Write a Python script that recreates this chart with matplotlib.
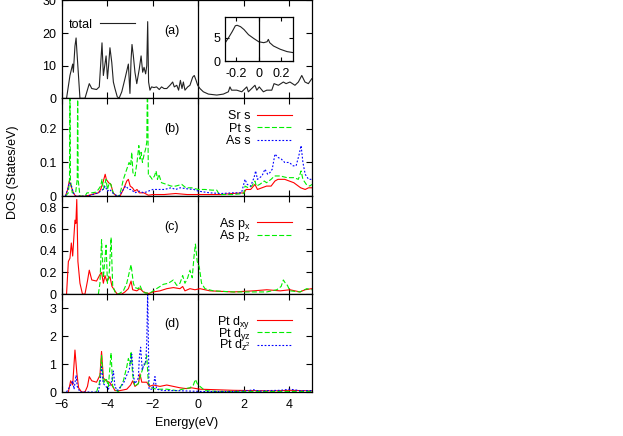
import matplotlib
matplotlib.use("Agg")
import matplotlib.pyplot as plt
from matplotlib.ticker import FuncFormatter

plt.rcParams['font.family'] = ['Liberation Sans', 'DejaVu Sans']
plt.rcParams['mathtext.default'] = 'regular'
plt.rcParams['font.size'] = 9

# ---------------- data ----------------
# (a) total DOS
tot_e = [-5.80, -5.65, -5.53, -5.50, -5.43, -5.38, -5.35, -5.21, -4.99, -4.80, -4.69, -4.48, -4.36,
         -4.24, -4.18, -4.12, -4.06, -4.00, -3.95, -3.89, -3.81, -3.74, -3.67, -3.57, -3.49, -3.37,
         -3.23, -3.08, -3.01, -2.96, -2.92, -2.86, -2.79, -2.71, -2.60, -2.52, -2.45, -2.39, -2.32,
         -2.27, -2.23, -2.19, -2.13, -2.06, -1.95, -1.84, -1.72, -1.62, -1.51, -1.39, -1.25, -1.13,
         -1.06, -0.95, -0.87, -0.79, -0.72, -0.66, -0.59, -0.47, -0.37, -0.25, -0.18, -0.10, -0.03,
         0.07, 0.22, 0.44, 0.81, 1.10, 1.32, 1.39, 1.46, 1.69, 1.91, 2.13, 2.20, 2.49, 2.57, 2.68,
         2.86, 3.01, 3.23, 3.33, 3.52, 3.74, 3.86, 4.03, 4.25, 4.40, 4.55, 4.69, 4.84, 4.99]
tot_v = [0.0, 7.0, 10.5, 8.0, 16.0, 18.5, 15.0, 0.0, 0.0, 4.5, 3.0, 2.7, 3.5,
         17.0, 7.0, 10.0, 13.0, 6.0, 10.0, 15.5, 11.0, 5.0, 3.0, 0.5, 0.0, 2.0,
         6.0, 10.5, 1.5, 12.0, 16.5, 13.0, 8.0, 4.5, 9.0, 13.0, 8.0, 9.5, 7.5,
         10.0, 23.5, 5.0, 2.5, 3.5, 3.3, 3.5, 2.7, 3.5, 3.0, 3.0, 4.0, 5.0,
         3.5, 4.0, 2.5, 5.5, 3.0, 5.0, 2.5, 3.5, 4.0, 6.5, 7.0, 5.5, 4.0,
         3.0, 2.0, 1.3, 1.0, 1.3, 2.0, 3.5, 2.5, 2.5, 2.0, 3.5, 2.0, 4.0, 2.5, 3.5,
         2.0, 2.5, 2.5, 4.5, 4.0, 5.0, 4.5, 5.0, 4.0, 5.0, 7.0, 5.0, 4.5, 6.0]

# inset (zoom near Fermi level)
ins_e = [-0.30, -0.265, -0.235, -0.206, -0.19, -0.16, -0.13, -0.09, -0.044, 0.0, 0.044, 0.074,
         0.085, 0.097, 0.13, 0.19, 0.25, 0.30]
ins_v = [3.7, 5.0, 6.2, 7.5, 7.6, 7.3, 6.7, 5.6, 4.8, 4.1, 3.9, 4.1, 4.6, 3.9, 3.2, 2.5, 2.0, 1.8]

# (b) s orbitals
srs_e = [-5.85, -5.75, -5.68, -5.60, -5.50, -5.40, -4.99, -4.80, -4.40, -4.30, -4.20, -4.10, -4.05,
         -3.95, -3.85, -3.75, -3.60, -3.45, -3.30, -3.15, -3.08, -3.00, -2.90, -2.80, -2.70, -2.60,
         -2.40, -2.20, -2.00, -1.50, -1.00, -0.50, 0.00, 0.50, 1.00, 1.50, 2.00, 2.10, 2.30, 2.49,
         2.60, 2.80, 3.00, 3.20, 3.37, 3.50, 3.80, 4.00, 4.20, 4.40, 4.50, 4.70, 4.85, 5.00]
srs_v = [0.0, 0.02, 0.045, 0.03, 0.01, 0.0, 0.0, 0.003, 0.01, 0.02, 0.04, 0.065, 0.05,
         0.04, 0.035, 0.01, 0.0, 0.0, 0.02, 0.045, 0.05, 0.03, 0.025, 0.015, 0.02, 0.01,
         0.01, 0.003, 0.005, 0.005, 0.008, 0.005, 0.005, 0.005, 0.005, 0.008, 0.01, 0.02, 0.02, 0.035,
         0.02, 0.025, 0.03, 0.03, 0.045, 0.05, 0.05, 0.045, 0.04, 0.03, 0.025, 0.02, 0.025, 0.025]

pts_e = [-5.85, -5.72, -5.67, -5.65, -5.63, -5.55, -5.40, -5.33, -5.31, -5.29, -5.21, -4.99, -4.90,
         -4.70, -4.50, -4.40, -4.30, -4.24, -4.18, -4.10, -4.06, -4.00, -3.92, -3.85, -3.75, -3.60,
         -3.49, -3.40, -3.30, -3.15, -3.05, -2.98, -2.93, -2.88, -2.79, -2.70, -2.62, -2.57, -2.52,
         -2.46, -2.40, -2.32, -2.27, -2.24, -2.20, -2.13, -2.03, -1.93, -1.86, -1.80, -1.74, -1.62,
         -1.40, -1.20, -1.00, -0.73, -0.55, -0.30, 0.00, 0.30, 0.60, 0.81, 0.92, 1.50, 2.00, 2.05,
         2.20, 2.35, 2.49, 2.55, 2.70, 2.90, 3.00, 3.20, 3.35, 3.60, 3.90, 4.20, 4.40, 4.52, 4.60,
         4.75, 4.90, 5.00]
pts_v = [0.0, 0.01, 0.05, 0.35, 0.05, 0.01, 0.01, 0.05, 0.35, 0.05, 0.0, 0.0, 0.01,
         0.01, 0.012, 0.02, 0.03, 0.05, 0.02, 0.04, 0.05, 0.02, 0.04, 0.035, 0.01, 0.0,
         0.0, 0.02, 0.05, 0.08, 0.10, 0.09, 0.13, 0.07, 0.06, 0.10, 0.15, 0.11, 0.13,
         0.10, 0.12, 0.14, 0.16, 0.35, 0.06, 0.06, 0.05, 0.06, 0.075, 0.05, 0.065, 0.04,
         0.035, 0.03, 0.03, 0.035, 0.025, 0.025, 0.02, 0.02, 0.018, 0.018, 0.005, 0.005, 0.008, 0.03,
         0.025, 0.03, 0.045, 0.03, 0.035, 0.045, 0.04, 0.05, 0.06, 0.06, 0.055, 0.055, 0.05, 0.075,
         0.05, 0.035, 0.03, 0.035]

ass_e = [-5.85, -5.75, -5.68, -5.60, -5.50, -5.40, -4.99, -4.80, -4.40, -4.20, -4.10, -4.00, -3.90,
         -3.70, -3.50, -3.30, -3.20, -3.05, -2.95, -2.80, -2.60, -2.40, -2.20, -2.00, -1.70, -1.50,
         -1.20, -1.00, -0.80, -0.50, -0.20, 0.00, 0.50, 1.00, 1.50, 1.90, 2.05, 2.15, 2.30, 2.45,
         2.52, 2.60, 2.80, 2.93, 3.05, 3.15, 3.25, 3.37, 3.50, 3.65, 3.80, 4.00, 4.17, 4.30, 4.42,
         4.52, 4.60, 4.70, 4.85, 5.00]
ass_v = [0.0, 0.02, 0.04, 0.035, 0.01, 0.0, 0.0, 0.002, 0.01, 0.02, 0.03, 0.015, 0.02,
         0.005, 0.0, 0.02, 0.03, 0.02, 0.02, 0.01, 0.015, 0.01, 0.015, 0.02, 0.02, 0.02,
         0.025, 0.02, 0.025, 0.022, 0.02, 0.015, 0.01, 0.008, 0.01, 0.01, 0.05, 0.035, 0.03, 0.055,
         0.075, 0.05, 0.06, 0.08, 0.065, 0.07, 0.08, 0.125, 0.115, 0.11, 0.10, 0.10, 0.09, 0.09, 0.12,
         0.15, 0.10, 0.065, 0.05, 0.05]

# (c) As p orbitals
apx_e = [-5.80, -5.72, -5.65, -5.59, -5.53, -5.43, -5.39, -5.35, -5.30, -5.21, -5.10, -4.99, -4.88,
         -4.80, -4.69, -4.48, -4.33, -4.26, -4.18, -4.11, -4.03, -3.89, -3.80, -3.67, -3.57, -3.37,
         -3.23, -3.08, -2.96, -2.89, -2.71, -2.57, -2.42, -2.20, -1.98, -1.69, -1.39, -1.10, -0.81,
         -0.69, -0.59, -0.37, -0.15, 0.07, 0.51, 1.54, 2.42, 3.01, 3.60, 4.03, 4.47, 4.69, 4.99]
apx_v = [0.0, 0.30, 0.33, 0.47, 0.35, 0.68, 0.65, 0.87, 0.30, 0.10, 0.0, 0.0, 0.12,
         0.22, 0.13, 0.12, 0.18, 0.20, 0.10, 0.17, 0.12, 0.16, 0.07, 0.03, 0.0, 0.0,
         0.02, 0.05, 0.12, 0.04, 0.03, 0.05, 0.02, 0.005, 0.02, 0.03, 0.05, 0.06, 0.05,
         0.07, 0.03, 0.05, 0.04, 0.05, 0.03, 0.02, 0.03, 0.04, 0.03, 0.04, 0.02, 0.04, 0.05]

apz_e = [-4.40, -4.33, -4.26, -4.18, -4.12, -4.06, -4.00, -3.92, -3.84, -3.77, -3.67, -3.52, -3.30,
         -3.15, -3.04, -2.96, -2.86, -2.79, -2.64, -2.57, -2.49, -2.35, -2.13, -1.84, -1.54, -1.32,
         -1.10, -0.95, -0.81, -0.69, -0.59, -0.47, -0.37, -0.27, -0.19, -0.13, -0.05, 0.04, 0.14,
         0.29, 0.66, 1.54, 2.42, 3.01, 3.45, 3.64, 3.74, 3.83, 3.92, 4.03, 4.47, 4.77, 4.99]
apz_v = [0.0, 0.10, 0.50, 0.15, 0.30, 0.45, 0.10, 0.20, 0.52, 0.08, 0.02, 0.0, 0.03,
         0.10, 0.20, 0.27, 0.10, 0.06, 0.05, 0.08, 0.04, 0.01, 0.01, 0.05, 0.09, 0.10,
         0.13, 0.08, 0.10, 0.17, 0.10, 0.15, 0.22, 0.15, 0.35, 0.46, 0.30, 0.25, 0.10,
         0.05, 0.03, 0.02, 0.02, 0.02, 0.04, 0.07, 0.13, 0.10, 0.08, 0.03, 0.02, 0.05, 0.04]

# (d) Pt d orbitals
dxy_e = [-5.72, -5.62, -5.53, -5.43, -5.35, -5.27, -5.14, -4.99, -4.88, -4.80, -4.69, -4.48, -4.33,
         -4.26, -4.18, -4.06, -3.92, -3.77, -3.67, -3.45, -3.15, -2.98, -2.89, -2.79, -2.64, -2.57,
         -2.49, -2.27, -2.16, -1.98, -1.69, -1.39, -1.10, -0.81, -0.52, -0.30, -0.08, 0.07, 0.81,
         1.54, 2.42, 3.30, 4.03, 4.99]
dxy_v = [0.0, 0.40, 0.25, 1.50, 0.70, 0.15, 0.0, 0.0, 0.20, 0.55, 0.40, 0.35, 0.60,
         1.45, 0.50, 0.40, 0.35, 0.20, 0.05, 0.05, 0.10, 0.25, 0.40, 0.20, 0.30, 0.65,
         0.35, 0.35, 0.20, 0.25, 0.20, 0.25, 0.20, 0.15, 0.12, 0.15, 0.12, 0.10, 0.08,
         0.06, 0.05, 0.04, 0.06, 0.04]

dyz_e = [-4.48, -4.36, -4.30, -4.26, -4.18, -4.06, -3.96, -3.84, -3.77, -3.67, -3.52, -3.30, -3.15,
         -3.08, -3.01, -2.96, -2.89, -2.79, -2.64, -2.54, -2.42, -2.35, -2.27, -2.20, -2.06, -1.84,
         -1.39, -0.95, -0.59, -0.37, -0.22, -0.13, -0.05, 0.07, 0.29, 0.81, 4.99]
dyz_v = [0.0, 0.30, 0.80, 1.30, 0.30, 0.50, 0.20, 1.40, 0.20, 0.10, 0.0, 0.40, 0.90,
         1.20, 1.00, 1.45, 0.60, 0.20, 0.30, 0.60, 0.90, 1.00, 1.30, 0.30, 0.15, 0.10,
         0.10, 0.05, 0.12, 0.15, 0.25, 0.45, 0.30, 0.20, 0.05, 0.02, 0.02]

dz2_e = [-5.80, -5.65, -5.53, -5.47, -5.38, -5.33, -5.21, -4.40, -4.33, -4.26, -4.18, -3.96, -3.81,
         -3.74, -3.67, -3.57, -3.30, -3.15, -3.04, -2.93, -2.86, -2.79, -2.64, -2.60, -2.54, -2.47,
         -2.39, -2.32, -2.27, -2.23, -2.17, -2.01, -1.91, -1.84, -1.54, -0.95, 0.07, 1.54, 2.20,
         2.42, 2.71, 3.01, 3.60, 4.03, 4.47, 4.99]
dz2_v = [0.0, 0.20, 0.40, 0.10, 0.60, 0.20, 0.0, 0.0, 0.30, 0.90, 0.30, 0.10, 0.40,
         0.75, 0.20, 0.05, 0.30, 0.60, 0.80, 1.35, 0.60, 0.30, 0.50, 1.20, 1.60, 0.80,
         1.00, 1.00, 1.80, 3.60, 0.10, 0.10, 0.55, 0.10, 0.05, 0.05, 0.02, 0.02, 0.05,
         0.08, 0.03, 0.05, 0.06, 0.10, 0.05, 0.05]

panel_labels = ['(a)', '(b)', '(c)', '(d)']
ylims = [(0, 30), (0, 0.29), (0, 0.9), (0, 3.5)]
yticks = [[0, 10, 20, 30], [0, 0.1, 0.2], [0, 0.2, 0.4, 0.6, 0.8], [0, 1, 2, 3]]
xticks = [-6, -4, -2, 0, 2, 4]

RED = '#ff0000'
GREEN = '#00ee00'
BLUE = '#0000ff'
DASH = (0, (4.5, 2))
DOT = (0, (1.6, 1.6))
LW = 0.8

fig = plt.figure(figsize=(6.23, 4.36), dpi=100)
gs = fig.add_gridspec(4, 1, left=62/623, right=312/623, top=0.999, bottom=1-392/436, hspace=0)
axes = [fig.add_subplot(gs[i]) for i in range(4)]

fmt = FuncFormatter(lambda v, p: '%g' % v)

def style(ax, i):
    ax.set_xlim(-6, 5)
    ax.set_ylim(*ylims[i])
    ax.set_xticks(xticks)
    ax.set_yticks(yticks[i])
    ax.yaxis.set_major_formatter(fmt)
    ax.tick_params(direction='in', top=True, right=True, length=4, width=0.8,
                   labelsize=9, pad=4)
    ax.tick_params(axis='x', pad=5)
    if i < 3:
        ax.tick_params(labelbottom=False)
    for s in ax.spines.values():
        s.set_linewidth(0.9)
    ax.axvline(0, color='black', lw=0.9)
    ax.text(0.439, 0.69, panel_labels[i], transform=ax.transAxes, ha='center', va='center',
            fontsize=9)

for i, ax in enumerate(axes):
    style(ax, i)

def gleg(ax, handles, labels, x, y, spacing=0.05):
    ax.legend(handles, labels, loc='upper right', bbox_to_anchor=(x, y), frameon=False,
              markerfirst=False, handlelength=2.8, handletextpad=0.5, labelspacing=spacing,
              borderpad=0, borderaxespad=0, fontsize=9)

# (a)
ax = axes[0]
l_tot, = ax.plot(tot_e, tot_v, color='#222222', lw=LW)
gleg(ax, [l_tot], ['total'], 0.29, 0.815)
axin = fig.add_axes([224.7/623, 1-61/436, 68/623, 43.7/436])
axin.plot(ins_e, ins_v, color='#222222', lw=LW)
axin.axvline(0, color='black', lw=0.9)
axin.set_xlim(-0.3, 0.3)
axin.set_ylim(0, 9.3)
axin.set_xticks([-0.2, 0, 0.2])
axin.set_yticks([0, 5])
axin.xaxis.set_major_formatter(fmt)
axin.tick_params(direction='in', top=True, right=True, length=3, width=0.8, labelsize=9, pad=3)
axin.tick_params(axis='x', pad=5)
for s in axin.spines.values():
    s.set_linewidth(0.9)

# (b)
ax = axes[1]
h1, = ax.plot(srs_e, srs_v, color=RED, lw=LW)
h2, = ax.plot(pts_e, pts_v, color=GREEN, lw=LW, ls=DASH)
h3, = ax.plot(ass_e, ass_v, color=BLUE, lw=LW, ls=DOT)
gleg(ax, [h1, h2, h3], ['Sr s', 'Pt s', 'As s'], 0.919, 0.88)

# (c)
ax = axes[2]
h1, = ax.plot(apx_e, apx_v, color=RED, lw=LW)
h2, = ax.plot(apz_e, apz_v, color=GREEN, lw=LW, ls=DASH)
gleg(ax, [h1, h2], ['As p$_x$', 'As p$_z$'], 0.919, 0.80, spacing=-0.3)

# (d)
ax = axes[3]
h1, = ax.plot(dxy_e, dxy_v, color=RED, lw=LW)
h2, = ax.plot(dyz_e, dyz_v, color=GREEN, lw=LW, ls=DASH)
h3, = ax.plot(dz2_e, dz2_v, color=BLUE, lw=LW, ls=DOT)
gleg(ax, [h1, h2, h3], ['Pt d$_{xy}$', 'Pt d$_{yz}$', 'Pt d$_{z^2}$'], 0.919, 0.80, spacing=-0.38)

ax.set_xlabel('Energy(eV)', fontsize=9)
ax.xaxis.set_label_coords(0.5, -0.26)
fig.text(13/623, 1-172/436, 'DOS (States/eV)', rotation=90, ha='center', va='center', fontsize=9)

fig.savefig('out.png', dpi=100)
